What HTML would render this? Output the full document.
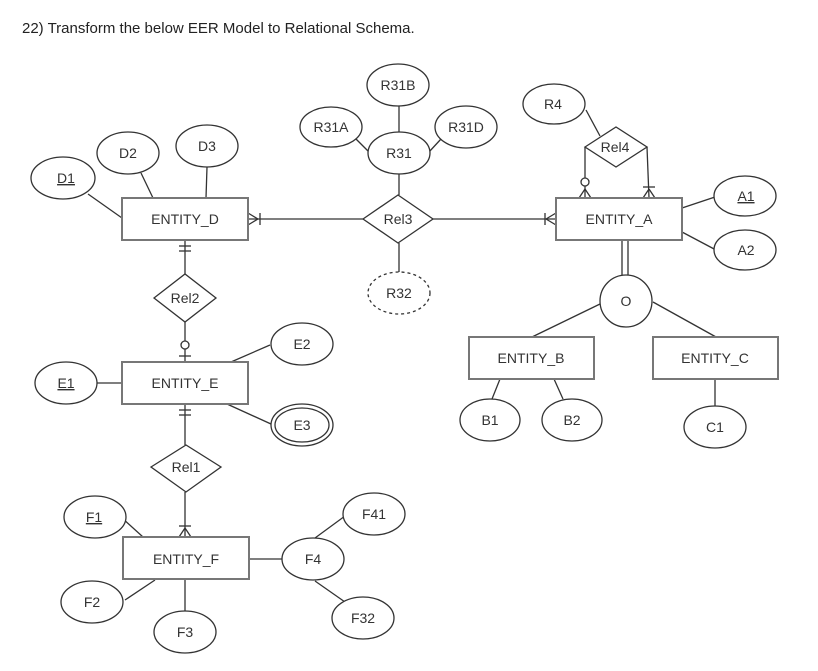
<!DOCTYPE html>
<html><head><style>
body{margin:0;background:#fff;}
svg{display:block;}
text{font-family:"Liberation Sans",Arial,sans-serif;font-size:14px;fill:#333;}
</style></head><body>
<svg width="818" height="671" viewBox="0 0 818 671" xmlns="http://www.w3.org/2000/svg">
<text x="22" y="33" style="font-size:15px;fill:#222">22) Transform the below EER Model to Relational Schema.</text>
<g stroke="#333" stroke-width="1.3" fill="none">
<!-- connectors -->
<line x1="88" y1="194" x2="122" y2="218"/>
<line x1="141" y1="173" x2="153" y2="198"/>
<line x1="207" y1="167" x2="206" y2="198"/>
<line x1="248" y1="219" x2="363" y2="219"/>
<line x1="433" y1="219" x2="556" y2="219"/>
<line x1="399" y1="174" x2="399" y2="195"/>
<line x1="399" y1="106" x2="399" y2="132"/>
<line x1="356" y1="139" x2="369" y2="152"/>
<line x1="441" y1="139" x2="429" y2="152"/>
<line x1="399" y1="243" x2="399" y2="272"/>
<line x1="586" y1="110" x2="600" y2="136"/>
<line x1="585" y1="147" x2="585" y2="198"/>
<line x1="647" y1="147" x2="649" y2="198"/>
<line x1="682" y1="208" x2="715" y2="197"/>
<line x1="682" y1="232" x2="716" y2="250"/>
<line x1="622" y1="240" x2="622" y2="276"/>
<line x1="628" y1="240" x2="628" y2="276"/>
<line x1="600" y1="304" x2="532" y2="337"/>
<line x1="653" y1="302" x2="716" y2="337"/>
<line x1="500" y1="379" x2="492" y2="399"/>
<line x1="554" y1="379" x2="563" y2="399"/>
<line x1="715" y1="379" x2="715" y2="406"/>
<line x1="185" y1="240" x2="185" y2="274"/>
<line x1="185" y1="322" x2="185" y2="362"/>
<line x1="97" y1="383" x2="122" y2="383"/>
<line x1="231" y1="362" x2="270" y2="345"/>
<line x1="227" y1="404" x2="271" y2="424"/>
<line x1="185" y1="404" x2="185" y2="445"/>
<line x1="185" y1="492" x2="185" y2="537"/>
<line x1="122" y1="518" x2="143" y2="537"/>
<line x1="125" y1="600" x2="155" y2="580"/>
<line x1="185" y1="579" x2="185" y2="611"/>
<line x1="249" y1="559" x2="283" y2="559"/>
<line x1="315" y1="538" x2="345" y2="516"/>
<line x1="315" y1="581" x2="345" y2="602"/>
<!-- crow marks -->
<line x1="248" y1="213" x2="258" y2="219"/><line x1="248" y1="225" x2="258" y2="219"/><line x1="260" y1="213" x2="260" y2="225"/>
<line x1="556" y1="213" x2="546" y2="219"/><line x1="556" y1="225" x2="546" y2="219"/><line x1="545" y1="213" x2="545" y2="225"/>
<line x1="579" y1="198" x2="585" y2="189"/><line x1="591" y1="198" x2="585" y2="189"/><circle cx="585" cy="182" r="4" fill="#fff"/>
<line x1="643" y1="198" x2="649" y2="189"/><line x1="655" y1="198" x2="649" y2="189"/><line x1="643" y1="187" x2="655" y2="187"/>
<line x1="179" y1="246" x2="191" y2="246"/><line x1="179" y1="251" x2="191" y2="251"/>
<circle cx="185" cy="345" r="4" fill="#fff"/><line x1="179" y1="356" x2="191" y2="356"/>
<line x1="179" y1="410" x2="191" y2="410"/><line x1="179" y1="415" x2="191" y2="415"/>
<line x1="179" y1="537" x2="185" y2="528"/><line x1="191" y1="537" x2="185" y2="528"/><line x1="179" y1="526" x2="191" y2="526"/>
<!-- ellipses -->
<g fill="#fff">
<ellipse cx="63" cy="178" rx="32" ry="21"/>
<ellipse cx="128" cy="153" rx="31" ry="21"/>
<ellipse cx="207" cy="146" rx="31" ry="21"/>
<ellipse cx="399" cy="153" rx="31" ry="21"/>
<ellipse cx="331" cy="127" rx="31" ry="20"/>
<ellipse cx="398" cy="85" rx="31" ry="21"/>
<ellipse cx="466" cy="127" rx="31" ry="21"/>
<ellipse cx="399" cy="293" rx="31" ry="21" stroke-dasharray="3,3"/>
<ellipse cx="554" cy="104" rx="31" ry="20"/>
<ellipse cx="745" cy="196" rx="31" ry="20"/>
<ellipse cx="745" cy="250" rx="31" ry="20"/>
<circle cx="626" cy="301" r="26"/>
<ellipse cx="490" cy="420" rx="30" ry="21"/>
<ellipse cx="572" cy="420" rx="30" ry="21"/>
<ellipse cx="715" cy="427" rx="31" ry="21"/>
<ellipse cx="66" cy="383" rx="31" ry="21"/>
<ellipse cx="302" cy="344" rx="31" ry="21"/>
<ellipse cx="302" cy="425" rx="31" ry="21"/>
<ellipse cx="302" cy="425" rx="27" ry="17"/>
<ellipse cx="95" cy="517" rx="31" ry="21"/>
<ellipse cx="92" cy="602" rx="31" ry="21"/>
<ellipse cx="185" cy="632" rx="31" ry="21"/>
<ellipse cx="313" cy="559" rx="31" ry="21"/>
<ellipse cx="374" cy="514" rx="31" ry="21"/>
<ellipse cx="363" cy="618" rx="31" ry="21"/>
<!-- diamonds -->
<polygon points="363,219 398,195 433,219 398,243"/>
<polygon points="585,147 616,127 647,147 616,167"/>
<polygon points="154,298 185,274 216,298 185,322"/>
<polygon points="151,467 186,445 221,467 186,492"/>
</g>
<!-- entities -->
<g fill="#fff" stroke="#777" stroke-width="2">
<rect x="122" y="198" width="126" height="42"/>
<rect x="556" y="198" width="126" height="42"/>
<rect x="469" y="337" width="125" height="42"/>
<rect x="653" y="337" width="125" height="42"/>
<rect x="122" y="362" width="126" height="42"/>
<rect x="123" y="537" width="126" height="42"/>
</g>
</g>
<g text-anchor="middle">
<text x="66" y="183" text-decoration="underline">D1</text>
<text x="128" y="158">D2</text>
<text x="207" y="151">D3</text>
<text x="185" y="224">ENTITY_D</text>
<text x="398" y="224">Rel3</text>
<text x="399" y="158">R31</text>
<text x="331" y="132">R31A</text>
<text x="398" y="90">R31B</text>
<text x="466" y="132">R31D</text>
<text x="399" y="298">R32</text>
<text x="553" y="109">R4</text>
<text x="615" y="152">Rel4</text>
<text x="619" y="224">ENTITY_A</text>
<text x="746" y="201" text-decoration="underline">A1</text>
<text x="746" y="255">A2</text>
<text x="626" y="306">O</text>
<text x="531" y="363">ENTITY_B</text>
<text x="715" y="363">ENTITY_C</text>
<text x="490" y="425">B1</text>
<text x="572" y="425">B2</text>
<text x="715" y="432">C1</text>
<text x="185" y="303">Rel2</text>
<text x="66" y="388" text-decoration="underline">E1</text>
<text x="185" y="388">ENTITY_E</text>
<text x="302" y="349">E2</text>
<text x="302" y="430">E3</text>
<text x="186" y="472">Rel1</text>
<text x="94" y="522" text-decoration="underline">F1</text>
<text x="186" y="564">ENTITY_F</text>
<text x="92" y="607">F2</text>
<text x="185" y="637">F3</text>
<text x="313" y="564">F4</text>
<text x="374" y="519">F41</text>
<text x="363" y="623">F32</text>
</g>
</svg>
</body></html>
